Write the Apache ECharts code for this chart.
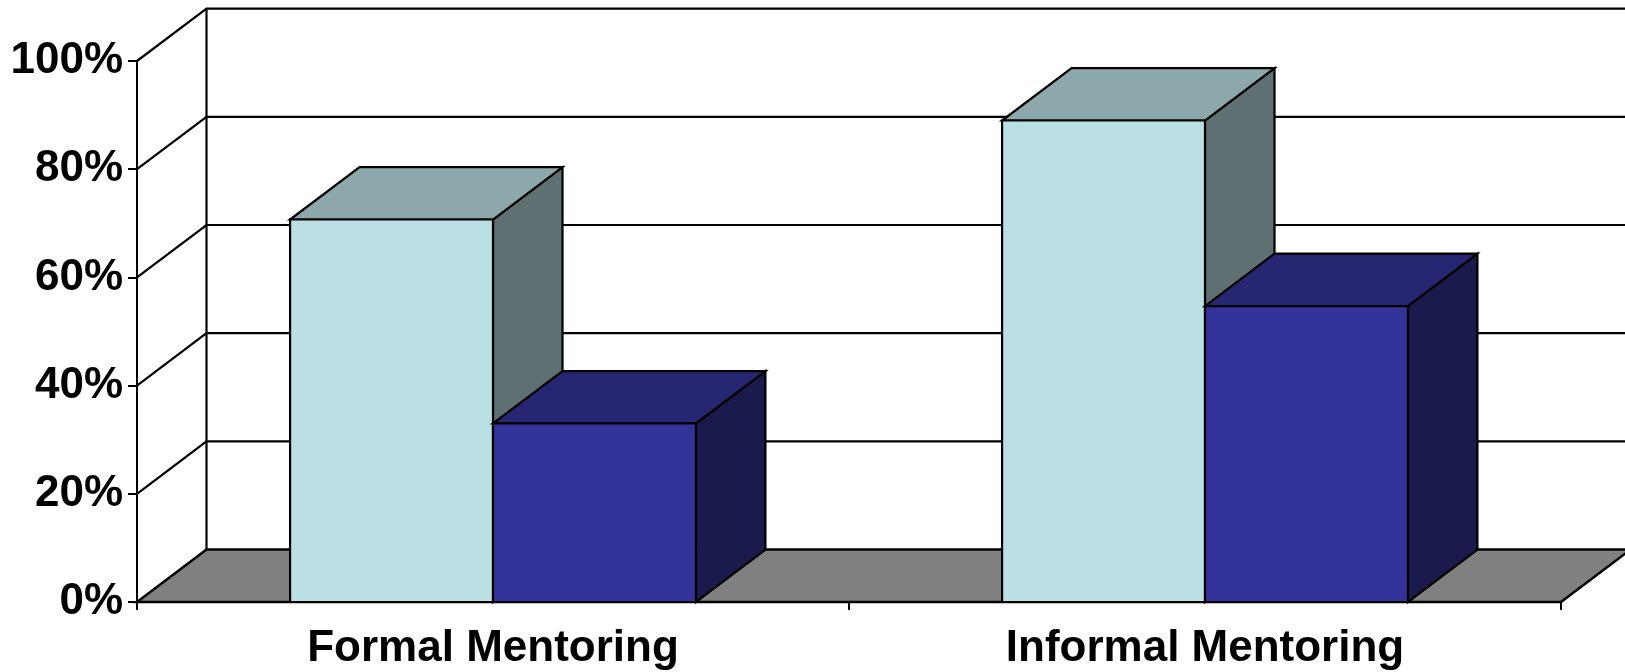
<!DOCTYPE html>
<html>
<head>
<meta charset="utf-8">
<title>Formal vs Informal Mentoring</title>
<script src="https://cdn.jsdelivr.net/npm/echarts@6/dist/echarts.min.js"></script>
<style>
  html, body { margin: 0; padding: 0; background: #ffffff; }
  #chart { width: 1625px; height: 672px; }
</style>
</head>
<body>
<div id="chart"></div>
<script>
// Categories and values (percent)
const categories = ['Formal Mentoring', 'Informal Mentoring'];
const seriesA = [70.7, 89.0];
const seriesB = [33.0, 54.7];
const yTicks = [0, 20, 40, 60, 80, 100];

// 3D look: depth offset of the back plane, in pixels
const DX = 69.5;
const DY = -52.4;
const BAR_RATIO = 0.285; // bar width as a share of the category width
const FONT = '"Liberation Sans", Arial, Helvetica, sans-serif';

const paletteA = { front: '#BBE0E3', top: '#8CA8AA', side: '#5E7072' };
const paletteB = { front: '#333399', top: '#262673', side: '#1A1A4D' };

function boxRenderer(slot, colors) {
  return function (params, api) {
    const idx = api.value(0);
    const val = api.value(1);
    const base = api.coord([idx, 0]);
    const top = api.coord([idx, val]);
    const bw = api.size([1, 0])[0] * BAR_RATIO;
    const x0 = base[0] + (slot - 1) * bw;
    const x1 = x0 + bw;
    const yT = top[1];
    const yB = base[1];
    const stroke = { stroke: '#000', lineWidth: 2.2, lineJoin: 'miter' };
    return {
      type: 'group',
      children: [
        {
          type: 'polygon',
          shape: { points: [[x1, yT], [x1 + DX, yT + DY], [x1 + DX, yB + DY], [x1, yB]] },
          style: Object.assign({ fill: colors.side }, stroke)
        },
        {
          type: 'polygon',
          shape: { points: [[x0, yT], [x1, yT], [x1 + DX, yT + DY], [x0 + DX, yT + DY]] },
          style: Object.assign({ fill: colors.top }, stroke)
        },
        {
          type: 'rect',
          shape: { x: x0, y: yT, width: bw, height: yB - yT },
          style: Object.assign({ fill: colors.front }, stroke)
        }
      ]
    };
  };
}

function wallRenderer(params, api) {
  const cs = params.coordSys;
  const v = api.value(0);
  const y = api.coord([0, v])[1];
  const xL = cs.x;
  const xR = cs.x + cs.width;
  const children = [];
  if (v === 0) {
    children.push({
      type: 'polygon',
      shape: { points: [[xL, y], [xR, y], [xR + DX, y + DY], [xL + DX, y + DY]] },
      style: { fill: '#808080', stroke: '#000', lineWidth: 2.5, lineJoin: 'miter' }
    });
  } else {
    children.push({
      type: 'polyline',
      shape: { points: [[xL, y], [xL + DX, y + DY], [xR + DX + 40, y + DY]] },
      style: { fill: 'none', stroke: '#000', lineWidth: 2.2 }
    });
  }
  if (v === yTicks[yTicks.length - 1]) {
    const y0 = api.coord([0, 0])[1];
    children.push({
      type: 'line',
      shape: { x1: xL + DX, y1: y + DY, x2: xL + DX, y2: y0 + DY },
      style: { stroke: '#000', lineWidth: 2.2 }
    });
  }
  return { type: 'group', children: children };
}

const chart = echarts.init(document.getElementById('chart'), null, { renderer: 'canvas' });

chart.setOption({
  animation: false,
  backgroundColor: '#ffffff',
  grid: { left: 137, right: 64, top: 61, bottom: 70, containLabel: false },
  xAxis: {
    type: 'category',
    data: categories,
    boundaryGap: true,
    axisLine: { show: true, lineStyle: { color: '#000', width: 2 } },
    axisTick: { show: true, alignWithLabel: false, length: 8, lineStyle: { color: '#000', width: 2 } },
    axisLabel: { color: '#000', fontFamily: FONT, fontWeight: 'bold', fontSize: 44, margin: 25 },
    splitLine: { show: false }
  },
  yAxis: {
    type: 'value',
    min: 0,
    max: 100,
    interval: 20,
    axisLine: { show: true, lineStyle: { color: '#000', width: 2 } },
    axisTick: { show: true, length: 9, lineStyle: { color: '#000', width: 2 } },
    axisLabel: { color: '#000', fontFamily: FONT, fontWeight: 'bold', fontSize: 44, margin: 14, padding: [4, 0, 0, 0], formatter: '{value}%' },
    splitLine: { show: false }
  },
  series: [
    {
      type: 'custom',
      name: 'walls',
      z: 1,
      silent: true,
      clip: false,
      renderItem: wallRenderer,
      data: yTicks.map(function (v) { return [v]; })
    },
    {
      type: 'custom',
      name: 'A',
      z: 3,
      clip: false,
      renderItem: boxRenderer(0, paletteA),
      data: seriesA.map(function (v, i) { return [i, v]; })
    },
    {
      type: 'custom',
      name: 'B',
      z: 3,
      clip: false,
      renderItem: boxRenderer(1, paletteB),
      data: seriesB.map(function (v, i) { return [i, v]; })
    }
  ]
});
</script>
</body>
</html>
